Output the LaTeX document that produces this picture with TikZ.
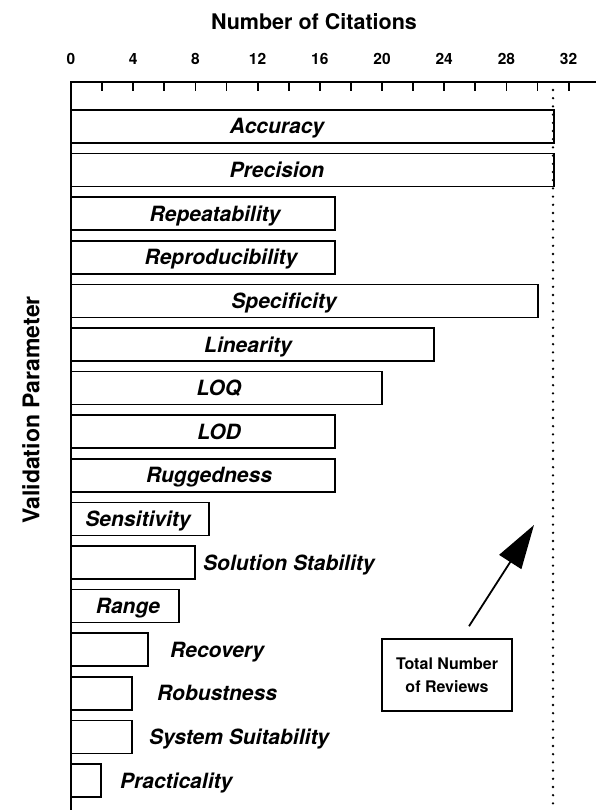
\documentclass[tikz,border=0pt]{standalone}
\usepackage{fontspec}
\setmainfont{TeX Gyre Heros}
\usepackage{tikz}
\usetikzlibrary{arrows.meta}

\begin{document}
\begin{tikzpicture}[x=1pt,y=-1pt]
    \tikzstyle{axis}  = [line width=2.6pt,line cap=rect]
    \tikzstyle{bar}   = [line width=1.6pt]
    \tikzstyle{lab}   = [font=\fontsize{21}{24}\selectfont\bfseries\itshape,inner sep=0pt,text height=15pt,text depth=0pt]
    \tikzstyle{ttl}   = [font=\fontsize{21.5}{24}\selectfont\bfseries]
    \tikzstyle{num}   = [font=\fontsize{15.5}{18}\selectfont\bfseries]
    \tikzstyle{total} = [dash pattern=on 0pt off 8.2pt,line cap=round,line width=2.6pt]
    \tikzstyle{note}  = [
      draw,
      line width=1.6pt,
      minimum width=130pt,
      minimum height=72pt,
      align=center,
      font=\fontsize{16}{23}\selectfont\bfseries,
    ]
    \tikzstyle{pointer} = [line width=1.8pt,-{Triangle[length=44pt,width=26pt]}]

    \useasboundingbox (0,0) rectangle (595,810);

    % axes
    \draw[axis] (71,810) -- (71,82) -- (595,82);
    \foreach \t in {1,...,16}
      \draw[axis,line width=1.8pt,line cap=butt] ({71+31.1*\t},82) -- ++(0,9);
    \foreach \t in {0,4,...,32}
      \node[num] (tick\t) at ({71+15.55*\t},59) {\t};
    \draw[total] (553,90) -- (553,810);

    \node[ttl] (xtitle) at (314,22) {Number of Citations};
    \node[ttl,rotate=90,font=\fontsize{23}{26}\selectfont\bfseries] (ytitle) at (31,410) {Validation Parameter};

    % bars
    \draw[bar] (71,110) rectangle (554,143);
    \draw[bar] (71,153.6) rectangle (554,186.6);
    \draw[bar] (71,197.2) rectangle (335,230.2);
    \draw[bar] (71,240.8) rectangle (335,273.8);
    \draw[bar] (71,284.4) rectangle (538,317.4);
    \draw[bar] (71,328) rectangle (434,361);
    \draw[bar] (71,371.6) rectangle (382,404.6);
    \draw[bar] (71,415.2) rectangle (335,448.2);
    \draw[bar] (71,458.8) rectangle (335,491.8);
    \draw[bar] (71,502.4) rectangle (209,535.4);
    \draw[bar] (71,546) rectangle (195,579);
    \draw[bar] (71,589.6) rectangle (179,622.6);
    \draw[bar] (71,633.2) rectangle (148,666.2);
    \draw[bar] (71,676.8) rectangle (132,709.8);
    \draw[bar] (71,720.4) rectangle (132,753.4);
    \draw[bar] (71,764) rectangle (101,797);

    \node[lab] (accuracy) at (277,126.5) {Accuracy};
    \node[lab] (precision) at (277,170.1) {Precision};
    \node[lab] (repeat) at (215,213.7) {Repeatability};
    \node[lab] (reprod) at (221,257.3) {Reproducibility};
    \node[lab] (specific) at (284,300.9) {Specificity};
    \node[lab] (linear) at (248,344.5) {Linearity};
    \node[lab] (loq) at (219,388.1) {LOQ};
    \node[lab] (lod) at (219,431.7) {LOD};
    \node[lab] (rugged) at (209,475.3) {Ruggedness};
    \node[lab] (sensitive) at (138,518.9) {Sensitivity};
    \node[lab,anchor=west] (stability) at (203,562.5) {Solution Stability};
    \node[lab] (range) at (128,606.1) {Range};
    \node[lab,anchor=west] (recovery) at (170,649.7) {Recovery};
    \node[lab,anchor=west] (robust) at (157,693.3) {Robustness};
    \node[lab,anchor=west] (suitable) at (149,736.9) {System Suitability};
    \node[lab,anchor=west] (practical) at (120,780.5) {Practicality};

    % note
    \node[note] (reviews) at (447,675) {Total Number\\of Reviews};
    \coordinate (tip) at (534,525);
    \draw[pointer] ([xshift=22pt,yshift=12pt]reviews.north) -- (tip);
\end{tikzpicture}
\end{document}
